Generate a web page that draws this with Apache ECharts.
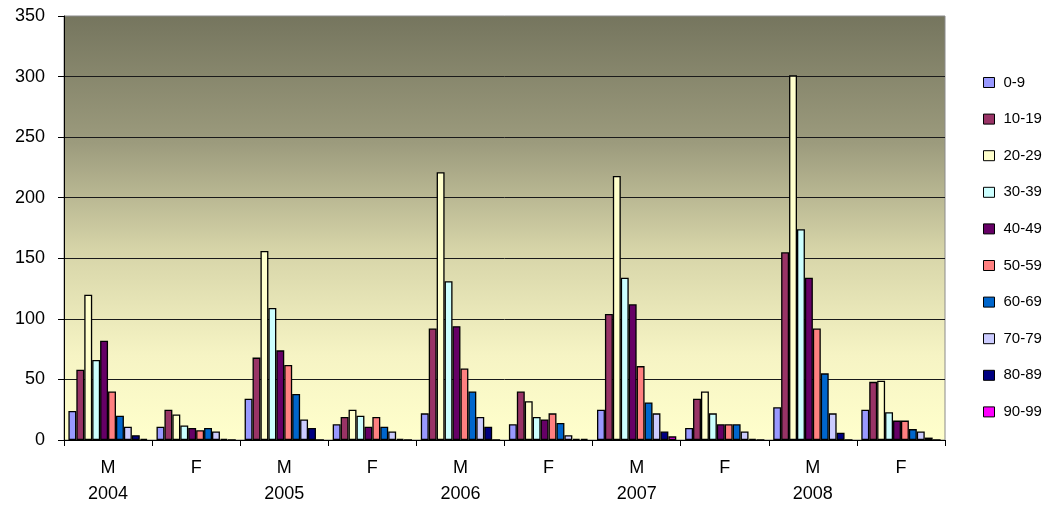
<!DOCTYPE html>
<html>
<head>
<meta charset="utf-8">
<script src="https://cdn.jsdelivr.net/npm/echarts@6/dist/echarts.min.js"></script>
<style>
  html, body { margin: 0; padding: 0; background: #fff; }
  #chart { width: 1050px; height: 510px; }
</style>
</head>
<body>
<div id="chart"></div>
<script>
// categories: sex within year
const categories = ['M', 'F', 'M', 'F', 'M', 'F', 'M', 'F', 'M', 'F']
const years = ['2004', '', '2005', '', '2006', '', '2007', '', '2008', '']
const ageGroups = ['0-9', '10-19', '20-29', '30-39', '40-49', '50-59', '60-69', '70-79', '80-89', '90-99']
const yTicks = [0, 50, 100, 150, 200, 250, 300, 350]

// values per age group, in category order (2004 M, 2004 F, 2005 M, ...)
const age0_9 = [24, 11, 34, 13, 22, 13, 25, 10, 27, 25]
const age10_19 = [58, 25, 68, 19, 92, 40, 104, 34, 155, 48]
const age20_29 = [120, 21, 156, 25, 221, 32, 218, 40, 301, 49]
const age30_39 = [66, 12, 109, 20, 131, 19, 134, 22, 174, 23]
const age40_49 = [82, 10, 74, 11, 94, 17, 112, 13, 134, 16]
const age50_59 = [40, 8, 62, 19, 59, 22, 61, 13, 92, 16]
const age60_69 = [20, 10, 38, 11, 40, 14, 31, 13, 55, 9]
const age70_79 = [11, 7, 17, 7, 19, 4, 22, 7, 22, 7]
const age80_89 = [4, 1, 10, 1, 11, 1, 7, 1, 6, 2]
const age90_99 = [1, 0, 0, 0, 0, 1, 3, 0, 0, 0]

const seriesValues = [age0_9, age10_19, age20_29, age30_39, age40_49,
  age50_59, age60_69, age70_79, age80_89, age90_99]

// old Excel palette
const barColors = ['#9999FF', '#993366', '#FFFFCC', '#CCFFFF', '#660066',
  '#FF8080', '#0066CC', '#CCCCFF', '#000080', '#FF00FF']

const font = "'Liberation Sans', Arial, sans-serif"

const chart = echarts.init(document.getElementById('chart'), null, { renderer: 'canvas' })

chart.setOption({
  animation: false,
  textStyle: { fontFamily: font, color: '#000' },
  grid: {
    left: 64,
    right: 105,
    top: 16,
    bottom: 70,
    show: true,
    borderColor: '#8a8a8a',
    borderWidth: 1,
    backgroundColor: new echarts.graphic.LinearGradient(0, 0, 0, 1, [
      { offset: 0, color: '#75755E' },
      { offset: 0.3, color: '#9C9B7D' },
      { offset: 0.55, color: '#D6D4A8' },
      { offset: 0.8, color: '#F6F4C4' },
      { offset: 1, color: '#FFFFCC' },
    ]),
  },
  legend: {
    orient: 'vertical',
    left: 978,
    top: 70,
    itemWidth: 11,
    itemHeight: 10,
    itemGap: 21.6,
    icon: 'rect',
    itemStyle: { borderColor: '#000', borderWidth: 1 },
    textStyle: { fontFamily: font, fontSize: 15, color: '#000', padding: [0, 0, 0, 4] },
    data: ageGroups,
  },
  xAxis: {
    type: 'category',
    data: categories,
    axisLine: { lineStyle: { color: '#000', width: 1 } },
    axisTick: { show: true, length: 6, lineStyle: { color: '#000' } },
    axisLabel: {
      fontSize: 18,
      lineHeight: 26,
      margin: 15,
      color: '#000',
      formatter: (val, i) => years[i] ? val + '\n' + years[i] : val,
    },
  },
  yAxis: {
    type: 'value',
    min: yTicks[0],
    max: yTicks[yTicks.length - 1],
    interval: 50,
    axisLine: { show: true, lineStyle: { color: '#000', width: 1 } },
    axisTick: { show: true, length: 6, lineStyle: { color: '#000' } },
    axisLabel: { fontSize: 18, margin: 19, color: '#000' },
    splitLine: {
      lineStyle: {
        color: yTicks.map((t, i) => i === yTicks.length - 1 ? 'rgba(0,0,0,0)' : '#1a1a1a'),
        width: 1,
      },
    },
  },
  series: ageGroups.map((name, i) => ({
    name,
    type: 'bar',
    data: seriesValues[i],
    barGap: '0%',
    barCategoryGap: '10%',
    itemStyle: { color: barColors[i], borderColor: '#000', borderWidth: 1.3 },
  })),
})
</script>
</body>
</html>
